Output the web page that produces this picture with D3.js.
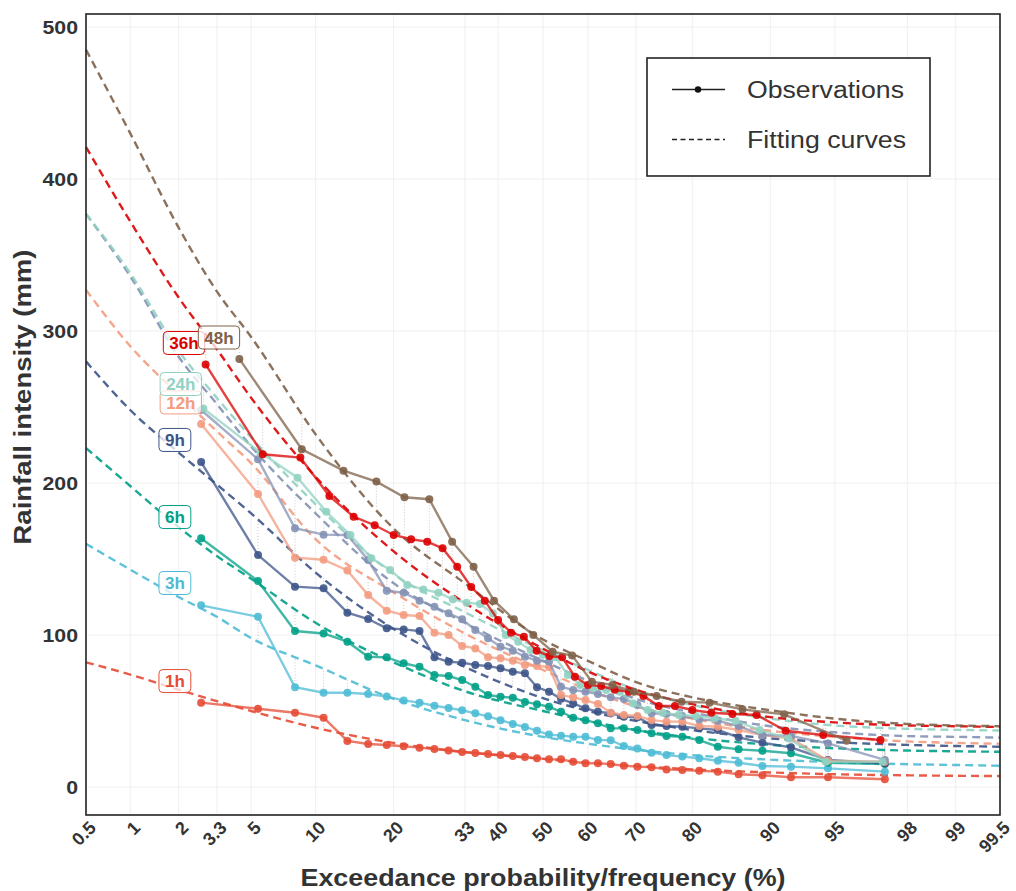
<!DOCTYPE html>
<html lang="en">
<head>
<meta charset="utf-8">
<title>Rainfall frequency curves</title>
<script src="https://d3js.org/d3.v7.min.js"></script>
<style>
  body { margin: 0; background: #fff; }
  svg text { font-family: "Liberation Sans", Arial, sans-serif; }
</style>
</head>
<body>
<div id="chart"></div>
<script>
// exceedance probabilities (%) of the plotted observations, per record length
const pos36 = [2.70, 5.41, 8.11, 10.81, 13.51, 16.22, 18.92, 21.62, 24.32, 27.03, 29.73, 32.43,
  35.14, 37.84, 40.54, 43.24, 45.95, 48.65, 51.35, 54.05, 56.76, 59.46, 62.16, 64.86,
  67.57, 70.27, 72.97, 75.68, 78.38, 81.08, 83.78, 86.49, 89.19, 91.89, 94.59, 97.30];
const pos35 = [2.78, 5.56, 8.33, 11.11, 13.89, 16.67, 19.44, 22.22, 25.00, 27.78, 30.56, 33.33,
  36.11, 38.89, 41.67, 44.44, 47.22, 50.00, 52.78, 55.56, 58.33, 61.11, 63.89, 66.67,
  69.44, 72.22, 75.00, 77.78, 80.56, 83.33, 86.11, 88.89, 91.67, 94.44, 97.22];
const pos34 = [2.86, 5.71, 8.57, 11.43, 14.29, 17.14, 20.00, 22.86, 25.71, 28.57, 31.43, 34.29,
  37.14, 40.00, 42.86, 45.71, 48.57, 51.43, 54.29, 57.14, 60.00, 62.86, 65.71, 68.57,
  71.43, 74.29, 77.14, 80.00, 82.86, 85.71, 88.57, 91.43, 94.29, 97.14];
const pos22 = [4.35, 8.70, 13.04, 17.39, 21.74, 26.09, 30.43, 34.78, 39.13, 43.48, 47.83, 52.17,
  56.52, 60.87, 65.22, 69.57, 73.91, 78.26, 82.61, 86.96, 91.30, 95.65];

// observed rainfall (mm)
const obs1h = [55.5, 51.5, 48.9, 45.6, 30.3, 28.3, 27.6, 26.8, 25.9, 25.0, 24.0, 23.0, 22.4, 21.7, 21.0, 20.4, 19.7, 19.0,
  18.2, 18.2, 16.6, 15.6, 15.6, 15.1, 14.0, 13.4, 13.0, 11.6, 11.2, 10.7, 10.1, 8.4, 7.7, 6.4, 6.4, 5.1];
const obs3h = [119.5, 112, 65.6, 62, 62, 61.2, 59.5, 57, 55.5, 53.5, 52, 50.5, 48.5, 46.5, 44, 41.5, 39.5, 37,
  34.5, 33.8, 33.1, 33, 31, 30.8, 27, 25.4, 22.6, 21, 20, 18.9, 17.3, 16, 13.8, 13.4, 12.3, 10.1];
const obs6h = [163.6, 135.5, 102.6, 101, 95.6, 85.7, 85.3, 81.4, 79.1, 73.7, 73, 70.4, 66, 60.5, 59.4, 58.8, 56, 54.5,
  52.8, 49.5, 45.6, 44, 41.9, 38.6, 38.6, 37.5, 35.3, 33.6, 33.1, 30.9, 26.5, 24.8, 23.9, 22.2, 16, 15.1];
const obs9h = [213.8, 152.6, 131.8, 130.7, 114.7, 110.5, 104.4, 103.7, 102.6, 85.3, 82.4, 81.8, 80.3, 79.6, 78.1, 75.9, 74.8, 65.6,
  62.7, 58, 55, 51.8, 49.5, 48.5, 46.3, 45.9, 40.8, 40.1, 39.7, 38.6, 37.5, 32.7, 29.1, 26.1, 17.8, 15.5];
const obs12h = [238.8, 192.8, 150.9, 149.5, 142.5, 126.3, 116, 113.2, 112.5, 101.5, 100, 92.8, 91.2, 85.3, 84.7, 83.1, 80.3, 79.6,
  79, 60.5, 59, 57.2, 54.6, 48.9, 47.4, 46.7, 44, 43, 43, 40.1, 39.7, 37.5, 34.2, 32, 17.3, 16.6];
const obs18h = [248, 215.6, 170.2, 166, 165.8, 149.3, 129.1, 127.8, 122.6, 118.6, 114.3, 110.3, 103.3, 97.8, 92.3, 89.7, 85.7, 83.1,
  82.5, 66, 63.8, 62.7, 61.2, 59, 57.9, 53.9, 48.5, 48, 46.7, 44.5, 43.6, 40.1, 34.2, 33.6, 28.7, 17.8];
const obs24h = [249, 220, 203.5, 181, 165.8, 150.5, 142.8, 132.9, 130, 127.8, 123.5, 121.3, 120.4, 114.3, 100, 95.6, 90.1, 87,
  85.3, 73.7, 67.1, 64.9, 63.8, 62.7, 55, 50.7, 48.9, 47.4, 46.7, 45.2, 43.6, 37.5, 32, 16.6, 16.6];
const obs36h = [278, 218.9, 216.7, 191.4, 177.8, 172.2, 165.8, 163, 161.4, 157, 144.9, 131.6, 122.6, 109.9, 101.5, 98.9, 89.7, 86.2,
  85.3, 72.6, 67.1, 66.4, 64, 62.7, 59.9, 53.3, 53.3, 50.7, 48.9, 48, 47.4, 37, 34.2, 30.9];
const obs48h = [281.6, 222.2, 208.1, 200.9, 190.6, 189.3, 161.4, 144.9, 122.6, 110.3, 100, 89,
  86.5, 69.3, 67.1, 62.7, 59.9, 56.1, 55.5, 51.1, 47.8, 30.5];

// fitted curves, read at these probabilities (%)
const fitP = [0.5, 1, 2, 3.3, 5, 10, 20, 33, 50, 60, 70, 80, 90, 95, 98, 99, 99.5];
const fit1h  = [82, 74, 64, 56.5, 50, 39, 29, 23, 18.5, 16, 13.8, 11.6, 9.6, 8.4, 7.7, 7.4, 7.2];
const fit3h  = [160, 143, 125, 112, 98, 80, 58, 44, 33, 28.5, 24.5, 21, 18, 16.3, 15, 14.5, 14];
const fit6h  = [223, 198, 171, 152, 137, 108, 82, 63, 50, 43.5, 37.5, 32.5, 27.8, 25.5, 24, 23.5, 23.2];
const fit9h  = [280, 248, 220, 199, 180, 141, 104, 79, 58.5, 50, 43.5, 37.5, 32, 29.5, 27.7, 27, 26.5];
const fit12h = [327, 290, 258, 234, 213, 163, 128, 101, 77, 64, 53, 45, 37, 33, 30, 29, 28.5];
const fit18h = [377, 336, 283, 252, 224, 180, 134, 108, 83, 70, 58, 49, 40, 36, 33.5, 33, 32.5];
const fit24h = [377, 338, 287, 256, 230, 186, 140, 115, 90, 77, 64, 54, 45, 40.5, 38.3, 37.6, 37.2];
const fit36h = [421, 372, 322, 288, 256, 204, 155, 121, 91, 76, 64, 54.5, 46, 42.5, 40.5, 40, 39.5];
const fit48h = [485, 430, 368, 326, 296, 232, 170, 134, 97, 83, 69, 59, 50.5, 45, 41.5, 40.5, 40];

const names  = ["1h", "3h", "6h", "9h", "12h", "18h", "24h", "36h", "48h"];
const colors = ["#E64B35", "#4DBBD5", "#00A087", "#3C5488", "#F39B7F", "#8491B4", "#91D1C2", "#DC0000", "#7E6148"];
const positions = [pos36, pos36, pos36, pos36, pos36, pos36, pos35, pos34, pos22];
const observed  = [obs1h, obs3h, obs6h, obs9h, obs12h, obs18h, obs24h, obs36h, obs48h];
const fitted    = [fit1h, fit3h, fit6h, fit9h, fit12h, fit18h, fit24h, fit36h, fit48h];

// duration labels (position in data units); 18h has none visible
const labelP = [1.90, 1.90, 1.90, 1.90, 2.06, null, 2.06, 2.15, 3.39];
const labelV = [69.7, 134.2, 177.6, 228.3, 253.0, null, 265.1, 292.1, 295.7];

const xTicks = [0.5, 1, 2, 3.3, 5, 10, 20, 33, 40, 50, 60, 70, 80, 90, 95, 98, 99, 99.5];
const yTicks = [0, 100, 200, 300, 400, 500];

// inverse normal CDF (Acklam)
function qnorm(p) {
  const a = [-3.969683028665376e+01, 2.209460984245205e+02, -2.759285104469687e+02, 1.383577518672690e+02, -3.066479806614716e+01, 2.506628277459239e+00];
  const b = [-5.447609879822406e+01, 1.615858368580409e+02, -1.556989798598866e+02, 6.680131188771972e+01, -1.328068155288572e+01];
  const c = [-7.784894002430293e-03, -3.223964580411365e-01, -2.400758277161838e+00, -2.549671348660680e+00, 4.374664141464968e+00, 2.938163982698783e+00];
  const d = [7.784695709041462e-03, 3.224671290700398e-01, 2.445134137142996e+00, 3.754408661907416e+00];
  const pl = 0.02425;
  if (p < pl) {
    const q = Math.sqrt(-2 * Math.log(p));
    return (((((c[0]*q+c[1])*q+c[2])*q+c[3])*q+c[4])*q+c[5]) / ((((d[0]*q+d[1])*q+d[2])*q+d[3])*q+1);
  }
  if (p > 1 - pl) {
    const q = Math.sqrt(-2 * Math.log(1 - p));
    return -(((((c[0]*q+c[1])*q+c[2])*q+c[3])*q+c[4])*q+c[5]) / ((((d[0]*q+d[1])*q+d[2])*q+d[3])*q+1);
  }
  const q = p - 0.5, r = q * q;
  return (((((a[0]*r+a[1])*r+a[2])*r+a[3])*r+a[4])*r+a[5])*q / (((((b[0]*r+b[1])*r+b[2])*r+b[3])*r+b[4])*r+1);
}

const plotLeft = 86, plotRight = 1000, plotTop = 14, plotBottom = 815;

const x = d3.scaleLinear().domain([qnorm(0.005), qnorm(0.995)]).range([plotLeft, plotRight]);
const px = p => x(qnorm(p / 100));
const y = d3.scaleLinear().domain([-18.4, 508.5]).range([plotBottom, plotTop]);

const svg = d3.select("#chart").append("svg")
    .attr("width", 1016)
    .attr("height", 891);

svg.append("rect").attr("width", 1016).attr("height", 891).attr("fill", "#fff");

// grid
const grid = svg.append("g").attr("stroke", "#ececec").attr("stroke-width", 0.8);
grid.selectAll("line.v").data(xTicks).enter().append("line")
    .attr("x1", d => px(d)).attr("x2", d => px(d))
    .attr("y1", plotTop).attr("y2", plotBottom);
grid.selectAll("line.h").data(yTicks).enter().append("line")
    .attr("x1", plotLeft).attr("x2", plotRight)
    .attr("y1", d => y(d)).attr("y2", d => y(d));

// fitted value at probability p, linear between read points
function fitAt(fv, p) {
  const z = qnorm(p / 100);
  for (let i = 0; i < fitP.length - 1; i++) {
    const z0 = qnorm(fitP[i] / 100), z1 = qnorm(fitP[i + 1] / 100);
    if (z >= z0 && z <= z1) return fv[i] + (fv[i + 1] - fv[i]) * (z - z0) / (z1 - z0);
  }
  return fv[fv.length - 1];
}

// residual ticks between observation and fit
const resid = svg.append("g").attr("stroke", "#b0b0b0").attr("stroke-width", 0.9)
    .attr("stroke-dasharray", "1,2").attr("opacity", 0.75);
names.forEach((n, i) => {
  positions[i].forEach((p, j) => {
    resid.append("line")
        .attr("x1", px(p)).attr("x2", px(p))
        .attr("y1", y(observed[i][j])).attr("y2", y(fitAt(fitted[i], p)));
  });
});

// fitting curves
const fitLine = d3.line().x(d => px(d[0])).y(d => y(d[1])).curve(d3.curveMonotoneX);
names.forEach((n, i) => {
  svg.append("path")
      .attr("d", fitLine(fitP.map((p, j) => [p, fitted[i][j]])))
      .attr("fill", "none")
      .attr("stroke", colors[i])
      .attr("stroke-width", 2.4)
      .attr("stroke-dasharray", "8,5")
      .attr("opacity", 0.9);
});

// observations
const obsLine = d3.line().x(d => px(d[0])).y(d => y(d[1]));
names.forEach((n, i) => {
  const pts = positions[i].map((p, j) => [p, observed[i][j]]);
  const g = svg.append("g").attr("class", "obs-" + n);
  g.append("path")
      .attr("d", obsLine(pts))
      .attr("fill", "none")
      .attr("stroke", colors[i])
      .attr("stroke-width", 2.4)
      .attr("opacity", 0.75);
  g.selectAll("circle").data(pts).enter().append("circle")
      .attr("cx", d => px(d[0]))
      .attr("cy", d => y(d[1]))
      .attr("r", 4)
      .attr("fill", colors[i])
      .attr("opacity", 0.9);
});

// duration labels
names.forEach((n, i) => {
  if (labelP[i] === null) return;
  const g = svg.append("g").attr("transform", `translate(${px(labelP[i])},${y(labelV[i])})`);
  const box = g.append("rect");
  const t = g.append("text")
      .attr("text-anchor", "middle")
      .attr("dy", "0.36em")
      .attr("font-size", 17)
      .attr("font-weight", "bold")
      .attr("fill", colors[i])
      .text(n);
  const w = t.node().getComputedTextLength() + 12;
  box.attr("x", -w / 2).attr("y", -11.5).attr("width", w).attr("height", 23)
      .attr("rx", 4)
      .attr("fill", "#fff").attr("fill-opacity", 0.75)
      .attr("stroke", colors[i]).attr("stroke-width", 1);
});

// frame
svg.append("rect")
    .attr("x", plotLeft).attr("y", plotTop)
    .attr("width", plotRight - plotLeft).attr("height", plotBottom - plotTop)
    .attr("fill", "none").attr("stroke", "#222").attr("stroke-width", 1.6);

// y axis labels
const yAxis = svg.append("g")
    .attr("transform", "translate(78,0)")
    .call(d3.axisLeft(y).tickValues(yTicks).tickSize(0).tickPadding(0));
yAxis.select(".domain").remove();
yAxis.selectAll("text")
    .attr("font-size", 19)
    .attr("font-weight", "bold")
    .attr("fill", "#333")
    .attr("font-family", "Liberation Sans, Arial, sans-serif")
    .attr("transform", "scale(1.12,1)");

// x axis labels
svg.append("g").selectAll("text").data(xTicks).enter().append("text")
    .attr("transform", d => `translate(${px(d) + 11},829) rotate(-45)`)
    .attr("text-anchor", "end")
    .attr("font-size", 18)
    .attr("font-weight", "bold")
    .attr("fill", "#333")
    .text(d => d);

// axis titles
svg.append("text")
    .attr("x", 543).attr("y", 886)
    .attr("text-anchor", "middle")
    .attr("font-size", 23)
    .attr("font-weight", "bold")
    .attr("fill", "#333")
    .attr("textLength", 485)
    .attr("lengthAdjust", "spacingAndGlyphs")
    .text("Exceedance probability/frequency (%)");

svg.append("text")
    .attr("transform", "translate(31,397) rotate(-90)")
    .attr("text-anchor", "middle")
    .attr("font-size", 24.5)
    .attr("font-weight", "bold")
    .attr("fill", "#333")
    .attr("textLength", 295)
    .attr("lengthAdjust", "spacingAndGlyphs")
    .text("Rainfall intensity (mm)");

// legend
const legend = svg.append("g");
legend.append("rect")
    .attr("x", 647).attr("y", 58).attr("width", 283).attr("height", 118)
    .attr("fill", "#fff").attr("stroke", "#222").attr("stroke-width", 1.6);
legend.append("line")
    .attr("x1", 672).attr("x2", 725).attr("y1", 89.5).attr("y2", 89.5)
    .attr("stroke", "#222").attr("stroke-width", 1.6);
legend.append("circle").attr("cx", 698).attr("cy", 89.5).attr("r", 3.2).attr("fill", "#111");
legend.append("line")
    .attr("x1", 672).attr("x2", 725).attr("y1", 139.5).attr("y2", 139.5)
    .attr("stroke", "#222").attr("stroke-width", 1.4).attr("stroke-dasharray", "5,3.5");
legend.append("text")
    .attr("x", 747).attr("y", 98)
    .attr("font-size", 23).attr("fill", "#333")
    .attr("textLength", 157).attr("lengthAdjust", "spacingAndGlyphs")
    .text("Observations");
legend.append("text")
    .attr("x", 747).attr("y", 148)
    .attr("font-size", 23).attr("fill", "#333")
    .attr("textLength", 159).attr("lengthAdjust", "spacingAndGlyphs")
    .text("Fitting curves");
</script>
</body>
</html>
